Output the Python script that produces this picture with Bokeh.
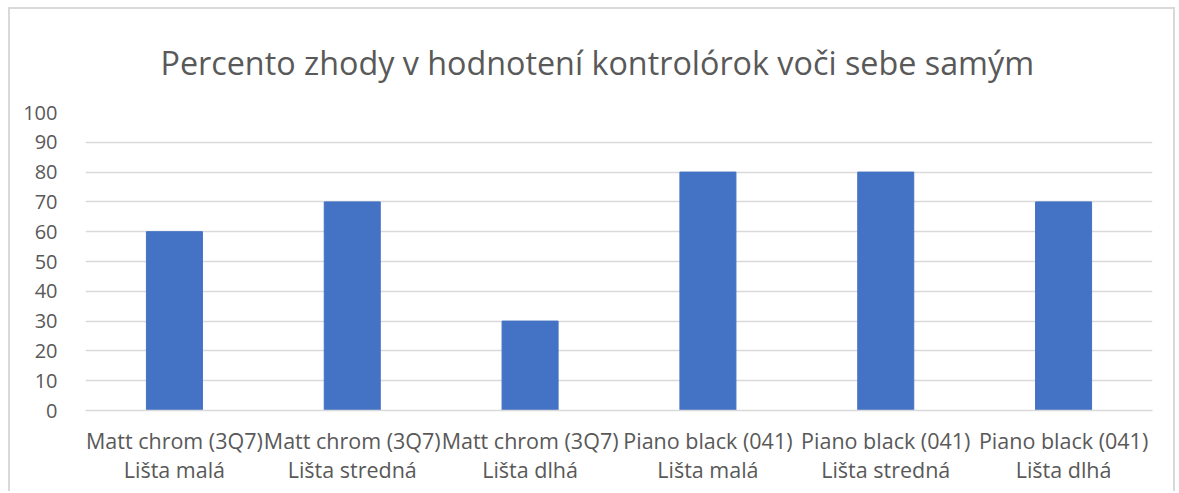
from bokeh.plotting import figure
from bokeh.embed import file_html
from bokeh.resources import INLINE
from bokeh.models import FixedTicker, ColumnDataSource

categories = ["Matt chrom (3Q7)\nLišta malá", "Matt chrom (3Q7)\nLišta stredná", "Matt chrom (3Q7)\nLišta dlhá",
              "Piano black (041)\nLišta malá", "Piano black (041)\nLišta stredná", "Piano black (041)\nLišta dlhá"]
values = [60, 70, 30, 80, 80, 70]
y_ticks = [0, 10, 20, 30, 40, 50, 60, 70, 80, 90, 100]
title_text = "Percento zhody v hodnotení kontrolórok voči sebe samým"

FONT = "Open Sans"
GREY = "#595959"

src = ColumnDataSource(dict(cat=categories, val=values))

p = figure(x_range=categories, y_range=(0, 100), width=1167, height=484,
           output_backend="svg", toolbar_location=None,
           min_border_left=75, min_border_right=25, min_border_top=98, min_border_bottom=83)
p.styles = {"margin-left": "8px", "margin-top": "7px", "border-left": "2px solid #d9d9d9",
            "border-top": "2px solid #d9d9d9", "border-right": "2px solid #d9d9d9"}

p.vbar(x="cat", top="val", width=0.315, source=src, color="#4472c4")

p.title.text = title_text
p.title.align = "left"
p.title.text_font = FONT
p.title.text_font_size = "32.3px"
p.title.text_font_style = "normal"
p.title.text_color = GREY
p.title.offset = 75
p.title.standoff = 57

p.outline_line_color = None
p.xgrid.grid_line_color = None
p.ygrid.grid_line_color = "#d9d9d9"
p.ygrid.grid_line_width = 1.3
p.yaxis.ticker = FixedTicker(ticks=y_ticks)
p.yaxis.axis_line_color = None
p.yaxis.major_tick_line_color = None
p.yaxis.minor_tick_line_color = None
p.yaxis.major_label_standoff = 22
p.xaxis.axis_line_color = "#d9d9d9"
p.xaxis.axis_line_width = 1.5
p.xaxis.major_tick_line_color = None
p.xaxis.major_label_standoff = 9
for ax in (p.xaxis, p.yaxis):
    ax.major_label_text_font = FONT
    ax.major_label_text_color = GREY
p.yaxis.major_label_text_font_size = "20px"
p.xaxis.major_label_text_font_size = "21.5px"
p.xaxis.major_label_text_line_height = 1.0

open("out.html", "w").write(file_html(p, INLINE))
